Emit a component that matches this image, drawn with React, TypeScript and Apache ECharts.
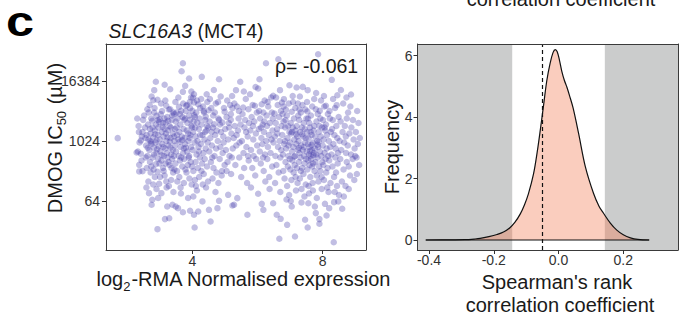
import React, { useEffect, useRef } from "react";
import * as echarts from "echarts";

// Left panel: [log2-RMA normalised expression, log2 DMOG IC50 (µM)]
const scatterPoints: [number, number][] = [
  [1.71, 10.19], [2.29, 9.23], [2.31, 11.5], [2.33, 9.3], [2.35, 11.0], [2.36, 10.6], [2.37, 7.97], [2.37, 8.41], [2.38, 9.9], [2.42, 9.15], [2.44, 8.7], [2.45, 10.3], [2.47, 10.59], [2.49, 11.41], [2.42, 10.03], [2.47, 7.99],
  [2.52, 11.7], [2.55, 10.9], [2.58, 9.7], [2.6, 10.4], [2.6, 8.2], [2.62, 12.12], [2.62, 9.0], [2.64, 11.1], [2.65, 10.1], [2.65, 7.3], [2.67, 6.52], [2.59, 6.9], [2.68, 9.4], [2.7, 10.8], [2.7, 8.6], [2.72, 10.5], [2.72, 7.9], [2.74, 11.5], [2.73, 9.9], [2.56, 10.2], [2.69, 12.4], [2.57, 8.9], [2.63, 9.55], [2.71, 10.0], [2.74, 8.3], [2.66, 11.9],
  [2.75, 9.8], [2.75, 12.97], [2.75, 5.75], [2.77, 11.35], [2.77, 6.08], [2.78, 8.9], [2.8, 12.72], [2.8, 10.25], [2.8, 7.1], [2.82, 9.55], [2.83, 13.39], [2.83, 11.9], [2.85, 10.7], [2.85, 7.6], [2.88, 13.95], [2.88, 8.45], [2.9, 11.68], [2.9, 10.05], [2.9, 9.2], [2.9, 6.8], [2.93, 12.75], [2.93, 7.95], [2.93, 4.12], [2.95, 10.4], [2.95, 8.8], [2.95, 6.2], [2.97, 9.65], [2.98, 11.28], [2.98, 7.15], [2.78, 10.9], [2.82, 9.1], [2.86, 10.45], [2.89, 11.1], [2.92, 9.45], [2.96, 10.9], [2.99, 8.5], [2.81, 8.1], [2.87, 9.9], [2.94, 11.4], [2.84, 12.2],
  [3.0, 10.1], [3.02, 9.3], [3.03, 11.79], [3.05, 6.52], [3.05, 8.7], [3.06, 10.6], [3.07, 12.0], [3.08, 9.8], [3.1, 8.2], [3.1, 11.2], [3.12, 10.3], [3.13, 9.0], [3.15, 13.75], [3.15, 7.7], [3.15, 10.8], [3.16, 4.79], [3.17, 9.5], [3.18, 11.23], [3.18, 8.5], [3.2, 12.35], [3.2, 10.0], [3.2, 7.3], [3.22, 9.2], [3.23, 5.63], [3.23, 11.6], [3.24, 8.9], [3.01, 7.6], [3.04, 12.5], [3.09, 10.95], [3.11, 9.6], [3.14, 11.5], [3.19, 10.5], [3.21, 6.9], [3.12, 8.0], [3.06, 9.05], [3.17, 12.7], [3.24, 10.25], [3.0, 11.45],
  [3.25, 10.7], [3.27, 9.7], [3.28, 12.1], [3.29, 4.85], [3.3, 8.4], [3.3, 11.0], [3.32, 13.45], [3.32, 12.12], [3.33, 10.2], [3.35, 9.1], [3.35, 7.4], [3.37, 11.4], [3.38, 8.8], [3.39, 5.75], [3.4, 10.5], [3.4, 9.4], [3.42, 11.9], [3.42, 6.6], [3.44, 11.79], [3.45, 8.1], [3.45, 10.0], [3.47, 9.7], [3.48, 12.6], [3.49, 11.3], [3.49, 5.63], [3.26, 11.35], [3.31, 9.95], [3.34, 10.9], [3.36, 8.2], [3.41, 7.9], [3.43, 9.0], [3.46, 10.8], [3.28, 7.0], [3.38, 11.7], [3.33, 9.55], [3.48, 8.5], [3.27, 8.6], [3.44, 10.3],
  [3.5, 9.3], [3.52, 10.9], [3.53, 8.0], [3.55, 11.5], [3.56, 5.52], [3.57, 10.1], [3.58, 9.0], [3.59, 12.28], [3.6, 7.6], [3.6, 10.6], [3.62, 8.7], [3.63, 11.1], [3.64, 9.6], [3.65, 6.5], [3.66, 12.01], [3.67, 14.65], [3.68, 10.3], [3.69, 8.3], [3.7, 11.6], [3.71, 15.19], [3.71, 13.28], [3.71, 5.25], [3.72, 9.2], [3.73, 10.8], [3.74, 7.2], [3.75, 11.41], [3.51, 11.9], [3.54, 7.3], [3.61, 9.95], [3.57, 12.9], [3.66, 8.9], [3.69, 10.05], [3.74, 9.5], [3.53, 10.4], [3.62, 11.8], [3.72, 12.5], [3.64, 6.9],
  [3.75, 8.8], [3.76, 10.2], [3.78, 13.68], [3.78, 9.8], [3.8, 12.0], [3.81, 12.35], [3.82, 7.9], [3.83, 10.7], [3.84, 9.3], [3.85, 11.2], [3.86, 8.4], [3.87, 6.2], [3.88, 10.0], [3.9, 14.17], [3.9, 11.7], [3.9, 9.0], [3.91, 7.5], [3.92, 12.6], [3.93, 11.41], [3.93, 12.19], [3.93, 5.35], [3.94, 10.4], [3.95, 8.6], [3.96, 9.6], [3.97, 13.3], [3.97, 11.0], [3.98, 7.1], [3.99, 10.9], [3.77, 11.5], [3.79, 8.1], [3.84, 12.4], [3.89, 8.9], [3.92, 10.2], [3.96, 12.9], [3.8, 9.55], [3.87, 10.5], [3.99, 8.3],
  [4.0, 12.01], [4.01, 9.4], [4.02, 10.6], [4.03, 8.0], [4.04, 11.3], [4.05, 13.12], [4.05, 12.57], [4.05, 5.08], [4.06, 11.72], [4.07, 4.23], [4.07, 9.9], [4.08, 7.4], [4.1, 10.3], [4.1, 8.6], [4.12, 11.9], [4.13, 9.1], [4.14, 6.7], [4.15, 11.23], [4.16, 10.0], [4.17, 8.2], [4.18, 12.45], [4.18, 5.3], [4.19, 9.6], [4.2, 10.8], [4.21, 7.6], [4.22, 11.5], [4.23, 8.9], [4.24, 12.2], [4.02, 12.9], [4.09, 10.9], [4.11, 7.0], [4.14, 12.7], [4.2, 9.3], [4.03, 6.3], [4.24, 10.4], [4.08, 11.6],
  [4.26, 9.8], [4.28, 11.1], [4.29, 14.28], [4.3, 8.5], [4.31, 5.97], [4.31, 10.4], [4.33, 12.3], [4.34, 9.2], [4.35, 7.8], [4.36, 11.9], [4.37, 10.1], [4.38, 8.8], [4.4, 11.4], [4.41, 11.63], [4.41, 9.5], [4.42, 6.9], [4.43, 10.7], [4.44, 13.12], [4.45, 8.3], [4.46, 12.6], [4.47, 9.9], [4.48, 7.3], [4.49, 10.9], [4.5, 12.05], [4.27, 12.8], [4.32, 7.1], [4.39, 10.6], [4.45, 11.0], [4.28, 8.0], [4.35, 12.0],
  [4.51, 5.41], [4.52, 9.3], [4.53, 11.3], [4.55, 10.2], [4.56, 4.63], [4.57, 8.6], [4.58, 12.2], [4.6, 9.7], [4.62, 7.5], [4.63, 10.9], [4.64, 11.7], [4.65, 8.2], [4.67, 11.12], [4.68, 9.0], [4.7, 10.4], [4.71, 6.6], [4.72, 12.5], [4.73, 9.5], [4.74, 7.9], [4.54, 12.8], [4.59, 10.6], [4.66, 13.4], [4.61, 8.9], [4.69, 11.9], [4.75, 10.7],
  [4.77, 5.52], [4.78, 10.0], [4.8, 11.5], [4.82, 14.12], [4.82, 11.41], [4.82, 6.01], [4.84, 8.8], [4.86, 9.6], [4.87, 12.97], [4.88, 10.6], [4.9, 7.7], [4.92, 11.23], [4.93, 9.2], [4.95, 10.3], [4.97, 12.2], [4.99, 11.95], [4.99, 8.4], [4.79, 12.6], [4.85, 11.1], [4.91, 8.0], [4.96, 9.9], [4.8, 7.2],
  [5.01, 10.8], [5.03, 9.4], [5.05, 11.6], [5.07, 12.7], [5.08, 8.6], [5.1, 6.41], [5.1, 10.1], [5.12, 11.2], [5.14, 9.0], [5.16, 12.4], [5.18, 11.79], [5.18, 11.41], [5.19, 7.8], [5.2, 10.5], [5.22, 13.0], [5.23, 12.19], [5.23, 5.7], [5.24, 9.5], [5.05, 8.0], [5.13, 10.9], [5.21, 8.9],
  [5.27, 10.2], [5.28, 5.75], [5.3, 11.0], [5.32, 8.4], [5.34, 13.39], [5.35, 9.7], [5.37, 12.3], [5.38, 6.19], [5.4, 10.7], [5.42, 11.5], [5.44, 8.9], [5.45, 9.9], [5.47, 13.95], [5.48, 11.1], [5.5, 7.6], [5.29, 12.5], [5.36, 10.4], [5.43, 12.0],
  [5.52, 10.0], [5.54, 11.8], [5.56, 12.23], [5.57, 9.2], [5.59, 8.2], [5.6, 10.9], [5.62, 11.4], [5.64, 12.8], [5.66, 9.6], [5.68, 7.2], [5.69, 5.08], [5.7, 10.3], [5.72, 12.12], [5.73, 8.7], [5.74, 11.2], [5.58, 13.3], [5.65, 10.6], [5.71, 9.0],
  [5.77, 13.12], [5.78, 10.7], [5.8, 9.4], [5.82, 11.6], [5.84, 8.2], [5.85, 12.4], [5.87, 10.1], [5.88, 9.0], [5.9, 11.3], [5.92, 12.35], [5.93, 7.7], [5.95, 10.5], [5.96, 8.8], [5.98, 11.9], [5.99, 9.7], [5.8, 6.9], [5.86, 11.0], [5.94, 13.6],
  [6.02, 13.5], [6.02, 6.48], [6.04, 10.8], [6.06, 14.12], [6.07, 9.3], [6.08, 11.5], [6.1, 8.5], [6.12, 10.2], [6.13, 12.45], [6.13, 5.81], [6.15, 9.8], [6.16, 11.1], [6.18, 11.9], [6.18, 5.41], [6.19, 8.0], [6.2, 10.6], [6.22, 12.7], [6.23, 9.1], [6.24, 7.3], [6.05, 12.0], [6.11, 10.9], [6.21, 11.3], [6.17, 8.9],
  [6.26, 15.19], [6.27, 10.0], [6.28, 11.7], [6.3, 8.8], [6.32, 9.6], [6.33, 12.3], [6.35, 10.4], [6.36, 7.6], [6.38, 11.2], [6.4, 9.2], [6.42, 12.9], [6.44, 11.9], [6.45, 8.3], [6.46, 10.7], [6.48, 13.01], [6.48, 5.85], [6.49, 9.9], [6.29, 11.0], [6.37, 6.8], [6.43, 10.1], [6.31, 12.6], [6.47, 11.5],
  [6.52, 11.83], [6.53, 10.3], [6.55, 9.0], [6.56, 11.2], [6.58, 8.4], [6.59, 5.08], [6.6, 10.8], [6.62, 12.4], [6.63, 9.6], [6.64, 15.45], [6.65, 7.9], [6.66, 11.6], [6.67, 3.48], [6.68, 10.0], [6.69, 13.39], [6.7, 8.9], [6.71, 4.81], [6.72, 12.0], [6.73, 9.4], [6.74, 11.0], [6.75, 12.57], [6.54, 7.2], [6.61, 10.5], [6.7, 6.6], [6.57, 12.9],
  [6.76, 10.4], [6.78, 9.1], [6.79, 8.0], [6.8, 11.3], [6.81, 12.79], [6.82, 9.8], [6.83, 7.5], [6.85, 10.9], [6.86, 8.6], [6.87, 12.1], [6.88, 9.5], [6.9, 11.7], [6.91, 4.41], [6.91, 7.0], [6.92, 10.2], [6.93, 8.3], [6.94, 11.0], [6.95, 9.0], [6.96, 12.5], [6.97, 6.4], [6.98, 13.72], [6.98, 10.6], [6.99, 8.8], [6.77, 11.8], [6.84, 10.0], [6.89, 6.1], [6.95, 9.7], [6.8, 12.3], [6.86, 11.4],
  [7.0, 9.9], [7.01, 8.1], [7.02, 11.2], [7.03, 10.5], [7.04, 7.4], [7.05, 11.95], [7.05, 5.63], [7.06, 9.3], [7.07, 8.7], [7.08, 10.9], [7.09, 12.6], [7.1, 9.6], [7.11, 7.9], [7.12, 11.5], [7.13, 10.1], [7.14, 8.4], [7.15, 3.63], [7.15, 9.0], [7.16, 12.2], [7.17, 10.7], [7.18, 6.7], [7.19, 9.8], [7.2, 13.57], [7.2, 11.0], [7.21, 8.2], [7.22, 10.3], [7.23, 7.2], [7.24, 9.4], [7.25, 11.7], [7.02, 6.0], [7.08, 13.0], [7.13, 8.95], [7.19, 10.45], [7.06, 10.6], [7.17, 7.6], [7.24, 12.5],
  [7.26, 10.0], [7.27, 8.6], [7.28, 11.4], [7.29, 9.2], [7.3, 12.97], [7.3, 7.5], [7.31, 10.6], [7.32, 8.9], [7.33, 11.9], [7.34, 9.7], [7.35, 6.8], [7.36, 10.9], [7.37, 8.2], [7.38, 12.4], [7.39, 13.61], [7.39, 9.4], [7.4, 10.3], [7.41, 7.8], [7.42, 11.2], [7.43, 9.0], [7.44, 8.5], [7.45, 10.8], [7.46, 4.75], [7.46, 9.9], [7.47, 12.1], [7.48, 7.1], [7.49, 8.8], [7.5, 11.5], [7.27, 9.55], [7.33, 8.0], [7.37, 10.45], [7.42, 9.6], [7.48, 10.2], [7.29, 12.1], [7.35, 5.9], [7.44, 6.3],
  [7.51, 9.3], [7.52, 10.6], [7.53, 11.97], [7.53, 8.1], [7.54, 13.39], [7.54, 4.23], [7.55, 9.8], [7.56, 5.85], [7.56, 8.7], [7.57, 10.2], [7.58, 9.1], [7.59, 11.2], [7.6, 8.4], [7.6, 9.6], [7.61, 10.9], [7.62, 7.6], [7.63, 9.0], [7.64, 11.7], [7.65, 8.8], [7.66, 10.4], [7.67, 9.4], [7.68, 12.3], [7.69, 7.2], [7.7, 9.9], [7.71, 8.5], [7.72, 10.7], [7.73, 9.2], [7.74, 11.0], [7.75, 8.0], [7.52, 12.6], [7.57, 7.0], [7.61, 9.35], [7.66, 9.75], [7.71, 9.05], [7.58, 6.5], [7.63, 10.6], [7.68, 8.3], [7.74, 12.8], [7.55, 11.5], [7.7, 6.7],
  [7.76, 5.63], [7.76, 9.5], [7.77, 10.3], [7.78, 8.6], [7.79, 12.12], [7.79, 5.19], [7.8, 9.1], [7.81, 11.3], [7.82, 7.7], [7.83, 10.0], [7.84, 8.9], [7.85, 11.8], [7.86, 15.79], [7.86, 9.6], [7.87, 7.3], [7.88, 10.6], [7.89, 8.3], [7.9, 4.79], [7.9, 4.48], [7.9, 11.0], [7.91, 12.01], [7.92, 9.3], [7.93, 8.0], [7.94, 10.3], [7.95, 12.7], [7.96, 9.0], [7.97, 6.8], [7.98, 10.9], [7.99, 8.6], [7.8, 13.2], [7.84, 9.75], [7.88, 9.95], [7.93, 11.5], [7.97, 7.6], [7.82, 6.2],
  [8.0, 9.7], [8.01, 11.4], [8.02, 8.4], [8.03, 10.1], [8.04, 7.4], [8.05, 12.3], [8.06, 9.2], [8.07, 5.81], [8.08, 10.7], [8.09, 8.8], [8.1, 12.35], [8.1, 11.1], [8.11, 7.9], [8.12, 5.03], [8.12, 9.5], [8.13, 10.4], [8.15, 8.2], [8.16, 11.8], [8.17, 9.0], [8.18, 6.6], [8.19, 10.0], [8.2, 5.52], [8.2, 8.7], [8.21, 12.0], [8.22, 11.5], [8.23, 9.6], [8.24, 7.2], [8.25, 10.6], [8.04, 13.0], [8.14, 6.9], [8.06, 10.9],
  [8.27, 9.1], [8.28, 14.08], [8.29, 10.8], [8.3, 8.3], [8.31, 11.4], [8.33, 9.8], [8.34, 3.25], [8.35, 5.92], [8.35, 7.6], [8.36, 10.4], [8.38, 12.2], [8.39, 8.9], [8.4, 9.5], [8.42, 11.0], [8.43, 12.39], [8.44, 7.0], [8.45, 13.05], [8.45, 10.2], [8.46, 8.5], [8.47, 9.2], [8.48, 5.97], [8.49, 11.6], [8.5, 6.4], [8.32, 12.8], [8.41, 7.9], [8.37, 6.6],
  [8.52, 10.0], [8.54, 8.8], [8.55, 11.3], [8.57, 9.4], [8.59, 7.3], [8.6, 5.48], [8.61, 10.6], [8.63, 12.5], [8.64, 8.1], [8.66, 9.9], [8.68, 11.0], [8.7, 7.0], [8.71, 10.3], [8.73, 12.9], [8.74, 11.5], [8.74, 8.6], [8.56, 13.4], [8.65, 6.3], [8.72, 9.2],
  [8.77, 9.7], [8.78, 11.9], [8.8, 8.3], [8.82, 10.5], [8.84, 7.7], [8.85, 12.3], [8.87, 9.1], [8.87, 13.1], [8.88, 10.9], [8.92, 8.8], [8.93, 11.4], [8.95, 10.1], [8.97, 7.4], [8.98, 9.5], [8.8, 6.8],
  [9.02, 10.6], [9.04, 8.9], [9.06, 12.0], [9.08, 9.8], [9.1, 11.2], [9.12, 8.4], [9.14, 10.2], [9.05, 7.8], [9.0, 9.0]
];

const leftXTicks = [4, 8];
const leftYTickExponents = [6, 10, 14]; // 2^6 = 64, 2^10 = 1024, 2^14 = 16384
const rhoValueText = "-0.061";

// Right panel: density of Spearman's rank correlation coefficients
const densityX = [-0.41, -0.33, -0.29, -0.26, -0.242, -0.215, -0.19, -0.17, -0.15, -0.135, -0.118, -0.105, -0.093, -0.077, -0.066, -0.056, -0.046, -0.036, -0.026, -0.017, -0.01, -0.004, 0.003, 0.01, 0.018, 0.026, 0.034, 0.045, 0.062, 0.083, 0.108, 0.125, 0.139, 0.16, 0.18, 0.2, 0.222, 0.245, 0.28];
const densityY = [0, 0.005, 0.01, 0.03, 0.05, 0.11, 0.18, 0.26, 0.4, 0.57, 0.85, 1.15, 1.5, 2.16, 2.85, 3.6, 4.4, 5.2, 5.75, 6.1, 6.2, 6.13, 5.85, 5.5, 5.2, 4.97, 4.7, 4.3, 3.47, 2.38, 1.52, 1.1, 0.87, 0.55, 0.32, 0.17, 0.07, 0.02, 0];
const rightXTicks = [-0.4, -0.2, 0, 0.2];
const rightYTicks = [0, 2, 4, 6];
const nullBandLimits = [-0.143, 0.143];
const observedRhoLine = -0.052;

const FONT = "'Liberation Sans', Arial, Helvetica, sans-serif";
const TICK_COLOR = "#333333";
const TEXT_COLOR = "#1a1a1a";
const FRAME = "#3a3a3a";

const LX = { min: 1.35, max: 9.33 };
const LY = { min: 2.73, max: 16.47 };
const RX = { min: -0.4355, max: 0.369 };
const RY = { min: -0.326, max: 6.38 };

const MAIN_SIZE = 20;
const SUB_SIZE = 13;
const SUB_DROP = 7.4; // subscript centre below main-text centre

function frameAxis(gridIndex: number, pos: string, range: { min: number; max: number }) {
  return {
    type: "value",
    gridIndex,
    position: pos,
    min: range.min,
    max: range.max,
    z: 10,
    axisLine: { show: true, onZero: false, lineStyle: { color: FRAME, width: 1 } },
    axisTick: { show: false },
    axisLabel: { show: false },
    splitLine: { show: false },
  };
}

function tickAxis(gridIndex: number, pos: string, range: { min: number; max: number }, ticks: number[], fmt: (v: number) => string, margin: number) {
  return {
    type: "value",
    gridIndex,
    position: pos,
    min: range.min,
    max: range.max,
    z: 10,
    axisLine: { show: true, onZero: false, lineStyle: { color: FRAME, width: 1 } },
    axisTick: { show: true, length: 4, inside: false, customValues: ticks, lineStyle: { color: "#333", width: 1 } },
    axisLabel: { show: true, customValues: ticks, formatter: fmt, margin, fontSize: 14, fontFamily: FONT, color: TICK_COLOR },
    splitLine: { show: false },
  };
}

function measure(s: string, size: number): number {
  const ctx = document.createElement("canvas").getContext("2d");
  if (!ctx) return s.length * size * 0.55;
  ctx.font = `${size}px "Liberation Sans", Arial, sans-serif`;
  return ctx.measureText(s).width;
}

// Title with a subscript, laid out in local coords centred on (0,0)
function subscriptTitle(before: string, sub: string, after: string) {
  const w1 = measure(before, MAIN_SIZE);
  const w2 = measure(sub, SUB_SIZE) + 1;
  const w3 = measure(after, MAIN_SIZE);
  const x0 = -(w1 + w2 + w3) / 2;
  const base = { fontFamily: FONT, fill: TEXT_COLOR, align: "left", verticalAlign: "middle" };
  return [
    { type: "text", x: x0, y: 0, style: { ...base, text: before, fontSize: MAIN_SIZE } },
    { type: "text", x: x0 + w1, y: SUB_DROP, style: { ...base, text: sub, fontSize: SUB_SIZE } },
    { type: "text", x: x0 + w1 + w2, y: 0, style: { ...base, text: after, fontSize: MAIN_SIZE } },
  ];
}

export default function App() {
  const ref = useRef<HTMLDivElement>(null);
  useEffect(() => {
    if (!ref.current) return;
    const chart = echarts.init(ref.current, null, { renderer: "svg" });
    const densityData = densityX.map((x, i) => [x, densityY[i]]);
    const baseline = [[densityX[0], 0], [densityX[densityX.length - 1], 0]];
    const txt = (extra: any) => ({ fontFamily: FONT, fill: TEXT_COLOR, ...extra });

    chart.setOption({
      animation: false,
      backgroundColor: "#ffffff",
      grid: [
        { left: 106, top: 44, width: 260, height: 206, containLabel: false },
        { left: 417.5, top: 44, width: 260.5, height: 206, containLabel: false },
      ],
      xAxis: [
        tickAxis(0, "bottom", LX, leftXTicks, (v: number) => String(v), 4),
        frameAxis(0, "top", LX),
        tickAxis(1, "bottom", RX, rightXTicks, (v: number) => v.toFixed(1), 3),
        frameAxis(1, "top", RX),
      ],
      yAxis: [
        tickAxis(0, "left", LY, leftYTickExponents, (v: number) => String(Math.pow(2, v)), 6),
        frameAxis(0, "right", LY),
        tickAxis(1, "left", RY, rightYTicks, (v: number) => String(v), 5),
        frameAxis(1, "right", RY),
      ],
      series: [
        {
          type: "scatter",
          xAxisIndex: 0,
          yAxisIndex: 0,
          data: scatterPoints,
          symbolSize: 6.5,
          itemStyle: { color: "rgba(68,58,170,0.41)" },
          silent: true,
        },
        {
          type: "line",
          xAxisIndex: 2,
          yAxisIndex: 2,
          data: [],
          z: 1,
          silent: true,
          markArea: {
            silent: true,
            itemStyle: { color: "#cbcccc" },
            data: [
              [{ xAxis: RX.min }, { xAxis: nullBandLimits[0] }],
              [{ xAxis: nullBandLimits[1] }, { xAxis: RX.max }],
            ],
          },
        },
        {
          type: "line",
          xAxisIndex: 2,
          yAxisIndex: 2,
          data: densityData,
          smooth: 0.35,
          showSymbol: false,
          z: 2,
          silent: true,
          lineStyle: { color: "#111", width: 1.2 },
          areaStyle: { color: "rgba(242,125,85,0.55)" },
        },
        {
          type: "line",
          xAxisIndex: 2,
          yAxisIndex: 2,
          data: baseline,
          showSymbol: false,
          z: 3,
          silent: true,
          lineStyle: { color: "#111", width: 1.2 },
          markLine: {
            silent: true,
            symbol: ["none", "none"],
            label: { show: false },
            lineStyle: { color: "#111", width: 1.2, type: [4, 3] },
            data: [{ xAxis: observedRhoLine }],
          },
        },
      ],
      graphic: [
        { type: "text", x: 20, y: 22, scaleX: 1.2, style: txt({ text: "c", fontSize: 42, fontWeight: "bold", fill: "#000", align: "center", verticalAlign: "middle" }) },
        {
          type: "text", x: 186, y: 31,
          style: txt({ text: "{it|SLC16A3} (MCT4)", fontSize: 19.5, align: "center", verticalAlign: "middle", rich: { it: { fontStyle: "italic", fontSize: 19.5, fontFamily: FONT, fill: TEXT_COLOR } } }),
        },
        { type: "text", x: 275, y: 66, style: txt({ text: "ρ= " + rhoValueText, fontSize: 19.5, align: "left", verticalAlign: "middle" }) },
        { type: "group", x: 54.5, y: 138, rotation: Math.PI / 2, children: subscriptTitle("DMOG IC", "50", " (µM)") },
        { type: "group", x: 244, y: 279, children: subscriptTitle("log", "2", "-RMA Normalised expression") },
        { type: "text", x: 392, y: 147, rotation: Math.PI / 2, style: txt({ text: "Frequency", fontSize: 20, align: "center", verticalAlign: "middle" }) },
        { type: "text", x: 557, y: 281.5, style: txt({ text: "Spearman's rank", fontSize: 20, align: "center", verticalAlign: "middle" }) },
        { type: "text", x: 560, y: 305, style: txt({ text: "correlation coefficient", fontSize: 20, align: "center", verticalAlign: "middle" }) },
        { type: "text", x: 561, y: -1, style: txt({ text: "correlation coefficient", fontSize: 20, align: "center", verticalAlign: "middle" }) },
      ],
    });
    return () => chart.dispose();
  }, []);
  return <div ref={ref} style={{ position: "fixed", left: 0, top: 0, width: 682, height: 320 }} />;
}
